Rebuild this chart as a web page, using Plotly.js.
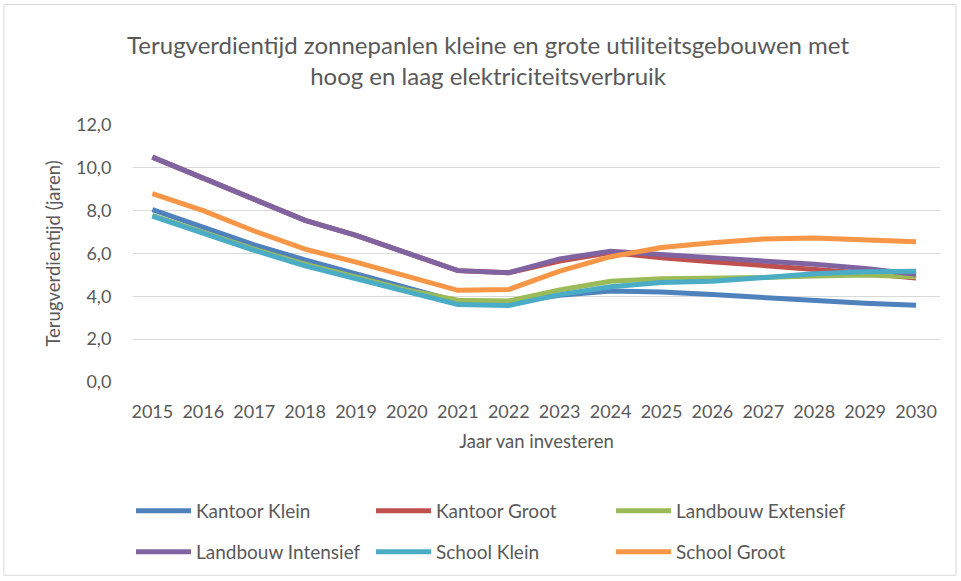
<!DOCTYPE html>
<html>
<head>
<meta charset="utf-8">
<script src="https://cdn.plot.ly/plotly-3.0.1.min.js"></script>
<style>html,body{margin:0;padding:0;background:#fff;}#chart{width:961px;height:581px;}</style>
</head>
<body>
<div id="chart"></div>
<script>
const years = [2015,2016,2017,2018,2019,2020,2021,2022,2023,2024,2025,2026,2027,2028,2029,2030];
const seriesNames = ["Kantoor Klein","Kantoor Groot","Landbouw Extensief","Landbouw Intensief","School Klein","School Groot"];
const kantoorKlein = [8.05,7.2,6.4,5.7,5.05,4.4,3.75,3.7,4.05,4.25,4.2,4.08,3.93,3.8,3.68,3.58];
const kantoorGroot = [10.5,9.5,8.5,7.55,6.85,6.05,5.2,5.1,5.65,6.05,5.8,5.62,5.45,5.28,5.08,4.85];
const landbouwExtensief = [7.78,6.98,6.2,5.5,4.88,4.3,3.82,3.78,4.3,4.7,4.82,4.84,4.88,4.95,5.0,4.92];
const landbouwIntensief = [10.5,9.5,8.5,7.55,6.85,6.05,5.2,5.1,5.75,6.1,5.95,5.82,5.68,5.5,5.3,5.03];
const schoolKlein = [7.75,6.95,6.15,5.42,4.8,4.2,3.62,3.57,4.08,4.45,4.65,4.7,4.9,5.05,5.15,5.17];
const schoolGroot = [8.8,8.0,7.05,6.2,5.6,4.95,4.28,4.32,5.18,5.85,6.28,6.5,6.68,6.72,6.65,6.55];
const yTickVals = [0,2,4,6,8,10,12];
const yTickText = ["0,0","2,0","4,0","6,0","8,0","10,0","12,0"];

const colors = ["#4F81BD","#C0504D","#9BBB59","#8064A2","#4BACC6","#F79646"];
const allValues = [kantoorKlein,kantoorGroot,landbouwExtensief,landbouwIntensief,schoolKlein,schoolGroot];
const FONT = "Lato, 'Open Sans', sans-serif";
const TXT = "#595959";

const traces = allValues.map((vals,i)=>({
  type:"scatter", mode:"lines", x:years, y:vals, name:seriesNames[i],
  line:{color:colors[i], width:5},
  legend: i<3 ? "legend" : "legend2"
}));

const legendCommon = {
  orientation:"h", xref:"paper", yref:"paper", xanchor:"left", yanchor:"middle",
  font:{family:FONT, size:19, color:TXT}, bgcolor:"rgba(0,0,0,0)",
  entrywidth:170, entrywidthmode:"pixels", itemwidth:55, traceorder:"normal"
};

const layout = {
  width:961, height:581,
  margin:{l:133, r:21, t:125, b:198},
  paper_bgcolor:"#fff", plot_bgcolor:"#fff",
  font:{family:FONT, color:TXT},
  title:{text:"Terugverdientijd zonnepanlen kleine en grote utiliteitsgebouwen met<br>hoog en laag elektriciteitsverbruik",
    font:{family:FONT, size:24, color:TXT}, x:0.44, xref:"paper", xanchor:"center",
    y:1-54/581, yref:"container", yanchor:"top"},
  xaxis:{range:[2014.62,2030.47], tickvals:years, ticktext:years.map(String),
    showgrid:false, zeroline:false, showline:false, ticks:"outside", ticklen:13, tickcolor:"rgba(0,0,0,0)",
    tickfont:{family:FONT, size:18, color:TXT},
    title:{text:"Jaar van investeren", font:{family:FONT, size:18.5, color:TXT}, standoff:14}},
  yaxis:{range:[0,12], tickvals:yTickVals, ticktext:yTickText,
    showgrid:true, gridcolor:"#d9d9d9", gridwidth:1.3, zeroline:false, showline:false,
    tickfont:{family:FONT, size:18, color:TXT}, ticks:"outside", ticklen:17, tickcolor:"rgba(0,0,0,0)",
    title:{text:"Terugverdientijd (jaren)", font:{family:FONT, size:18.5, color:TXT}, standoff:10}},
  legend:Object.assign({x:-0.0025, y:-0.496}, legendCommon),
  legend2:Object.assign({x:-0.0025, y:-0.655}, legendCommon),
  shapes:[{type:"rect", xref:"paper", yref:"paper", x0:-0.16, x1:1.0198, y0:-0.752, y1:1.469,
    line:{color:"#d9d9d9", width:1}, fillcolor:"rgba(0,0,0,0)", layer:"below"}],
  showlegend:true
};

Plotly.newPlot("chart", traces, layout, {displayModeBar:false, responsive:false});
</script>
</body>
</html>
